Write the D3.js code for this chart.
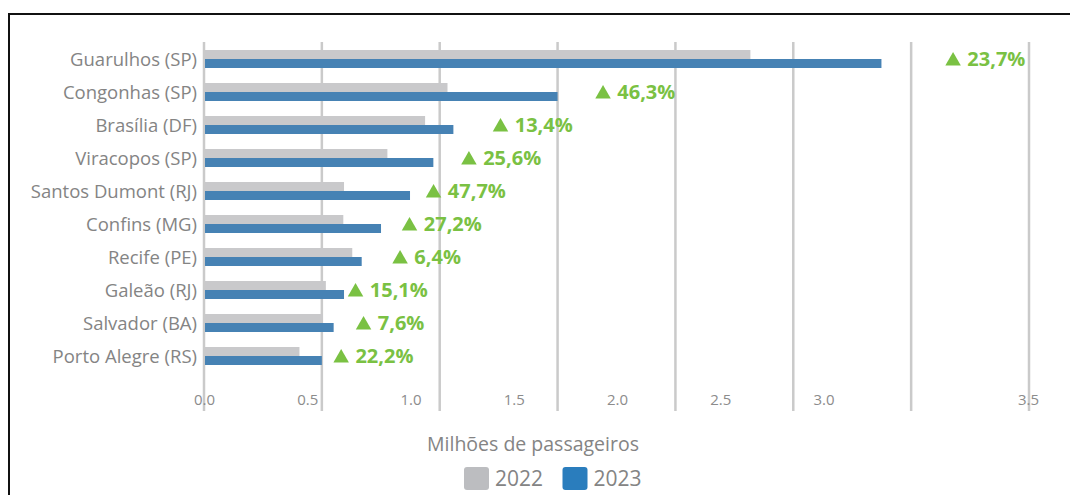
<!DOCTYPE html>
<html>
<head>
<meta charset="utf-8">
<script src="https://cdn.jsdelivr.net/npm/d3@7"></script>
<style>
  body { margin: 0; background: #fff; }
  svg { display: block; }
</style>
</head>
<body>
<div id="vis-container"></div>
<script>
// airports, top to bottom
var airports = ["Guarulhos (SP)", "Congonhas (SP)", "Brasília (DF)", "Viracopos (SP)", "Santos Dumont (RJ)",
                "Confins (MG)", "Recife (PE)", "Galeão (RJ)", "Salvador (BA)", "Porto Alegre (RS)"];

// millions of passengers
var pax2022 = [2.318, 1.033, 0.938, 0.778, 0.594, 0.591, 0.629, 0.517, 0.504, 0.405];
var pax2023 = [2.874, 1.500, 1.058, 0.973, 0.874, 0.751, 0.669, 0.594, 0.550, 0.500];

var growth = ["23,7%", "46,3%", "13,4%", "25,6%", "47,7%", "27,2%", "6,4%", "15,1%", "7,6%", "22,2%"];
// where each growth label sits, in millions (hand placed in the original)
var growthAt = [3.145, 1.660, 1.225, 1.091, 0.941, 0.839, 0.799, 0.610, 0.644, 0.549];

var gridValues = [0, 0.5, 1.0, 1.5, 2.0, 2.5, 3.0, 3.5];
var tickLabels = ["0.0", "0.5", "1.0", "1.5", "2.0", "2.5", "3.0", "3.5"];

var years = ["2022", "2023"];

const width = 1070,
      height = 495,
      margin = {top: 42, bottom: 112, left: 204, right: 41};

const grey = "#c9c9cb",
      blue = "#4682b4",
      green = "#7ac143",
      textGrey = "#848484";

var svg = d3.select("#vis-container").append("svg")
    .attr("width", width)
    .attr("height", height);

// frame
svg.append("path")
    .attr("d", "M9,495 V14 H1070")
    .attr("fill", "none")
    .attr("stroke", "#111")
    .attr("stroke-width", 2);

// ******* Scales *******
var x = d3.scaleLinear().domain([0, 3.5]).range([margin.left, width - margin.right]);
var y = d3.scaleBand().domain(airports).range([42.5, 372.5]);
// tick labels in the original don't line up with the grid
var xLabel = d3.scaleLinear().domain([0, 3, 3.5]).range([204, 823.5, 1028]);

// grid
svg.append("g").selectAll("line")
    .data(gridValues)
    .enter().append("line")
    .attr("x1", function(d) {return x(d);})
    .attr("x2", function(d) {return x(d);})
    .attr("y1", margin.top)
    .attr("y2", height - margin.bottom + 28)
    .attr("stroke", "#cacaca")
    .attr("stroke-width", 2.5);

// bars
var barH = 9;
var rows = svg.append("g").selectAll("g")
    .data(airports)
    .enter().append("g")
    .attr("transform", function(d) {return `translate(0 ${y(d) + y.bandwidth() / 2})`;});

rows.append("rect")
    .attr("x", x(0) + 1)
    .attr("y", -barH)
    .attr("width", function(d, i) {return x(pax2022[i]) - x(0) - 1;})
    .attr("height", barH)
    .attr("fill", grey);

rows.append("rect")
    .attr("x", x(0) + 1)
    .attr("y", 0)
    .attr("width", function(d, i) {return x(pax2023[i]) - x(0) - 1;})
    .attr("height", barH)
    .attr("fill", blue);

// growth labels
var ann = rows.append("g")
    .attr("transform", function(d, i) {return `translate(${x(growthAt[i])} 0)`;});

ann.append("path")
    .attr("d", "M0,6.5 L15.5,6.5 L7.75,-7 Z")
    .attr("fill", green);

ann.append("text")
    .attr("x", 22)
    .attr("y", 7)
    .attr("font-family", "'Open Sans', sans-serif")
    .attr("font-weight", "bold")
    .attr("font-size", 20)
    .attr("fill", green)
    .text(function(d, i) {return growth[i];});

// ******* Axes *******
var yAxis = svg.append("g")
    .attr("transform", `translate(${margin.left} 0)`)
    .call(d3.axisLeft(y).tickSize(0).tickPadding(7));
yAxis.select(".domain").remove();
yAxis.selectAll("text")
    .attr("dy", "0.36em")
    .attr("font-family", "'Open Sans', sans-serif")
    .attr("font-size", 18.5)
    .attr("fill", textGrey);

var xAxis = svg.append("g")
    .attr("transform", `translate(0 ${height - margin.bottom})`)
    .call(d3.axisBottom(xLabel)
        .tickValues(gridValues)
        .tickFormat(function(d, i) {return tickLabels[i];})
        .tickSize(0)
        .tickPadding(11));
xAxis.select(".domain").remove();
xAxis.selectAll("text")
    .attr("font-family", "'Open Sans', sans-serif")
    .attr("font-size", 15)
    .attr("fill", "#8c8c8c");

svg.append("text")
    .attr("x", 533)
    .attr("y", 451)
    .attr("text-anchor", "middle")
    .attr("font-family", "'Open Sans', sans-serif")
    .attr("font-size", 19.5)
    .attr("fill", textGrey)
    .text("Milhões de passageiros");

// legend
var legend = svg.append("g").selectAll("g")
    .data(years)
    .enter().append("g")
    .attr("transform", function(d, i) {return `translate(${464 + i * 98.5} 467)`;});

legend.append("rect")
    .attr("width", 25)
    .attr("height", 23)
    .attr("rx", 3)
    .attr("fill", function(d, i) {return i == 0 ? "#bcbdc0" : "#2a7dbd";});

legend.append("text")
    .attr("x", 31)
    .attr("y", 19)
    .attr("font-family", "'Open Sans', sans-serif")
    .attr("font-size", 21)
    .attr("fill", textGrey)
    .text(function(d) {return d;});
</script>
</body>
</html>
